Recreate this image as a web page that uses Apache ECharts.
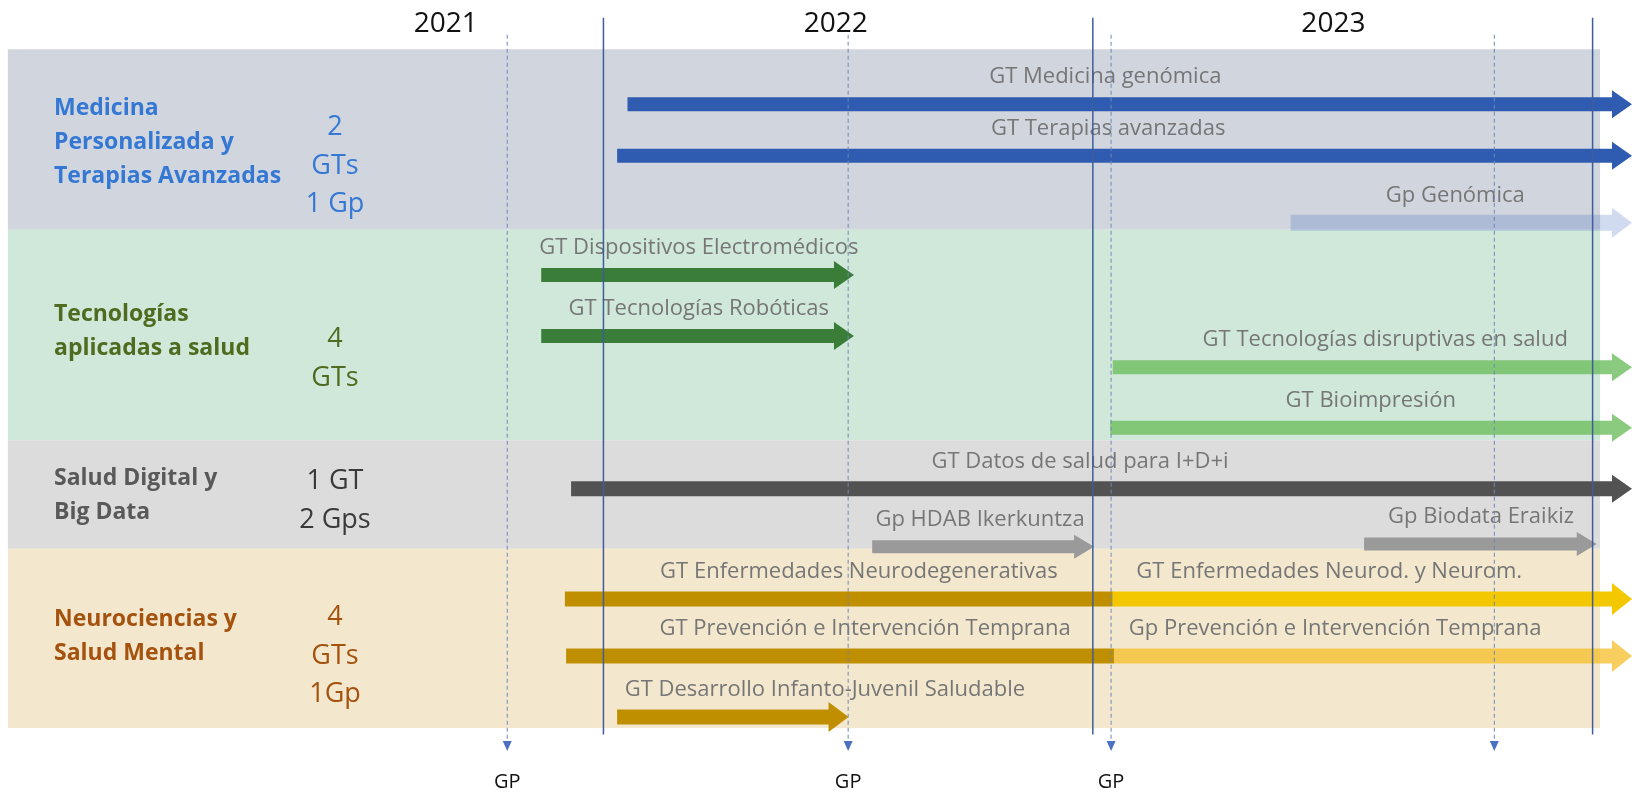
<!DOCTYPE html>
<html><head><meta charset="utf-8">
<script src="https://cdn.jsdelivr.net/npm/echarts@6/dist/echarts.min.js"></script>
<style>html,body{margin:0;padding:0;background:#fff}#c{width:1632px;height:794px}</style>
</head><body><div id="c"></div>
<script>
// ---------------- data (x in months from Jan 2021, y in row units) ----------------
const yearLabels = ['2021', '2022', '2023'];
const yearLabelAt = [8.2, 17.6, 29.6];
const yearLines = [12, 23.8, 35.85];
const gpLines = [9.68, 17.9, 24.24, 33.48];
const gpLabels = ['GP', 'GP', 'GP', ''];

const bandNames = ['Medicina\nPersonalizada y\nTerapias Avanzadas', 'Tecnologías\naplicadas a salud', 'Salud Digital y\nBig Data', 'Neurociencias y\nSalud Mental'];
const bandCounts = ['2\nGTs\n1 Gp', '4\nGTs', '1 GT\n2 Gps', '4\nGTs\n1Gp'];
const bandFrom = [0.99, 4.63, 8.87, 11.06];
const bandTo = [4.63, 8.87, 11.06, 14.67];
const bandStart = -2.36, bandEnd = 36.03;

const taskNames = [
  'GT Medicina genómica', 'GT Terapias avanzadas', 'Gp Genómica',
  'GT Dispositivos Electromédicos', 'GT Tecnologías Robóticas',
  'GT Tecnologías disruptivas en salud', 'GT Bioimpresión',
  'GT Datos de salud para I+D+i', 'Gp HDAB Ikerkuntza', 'Gp Biodata Eraikiz',
  'GT Enfermedades Neurodegenerativas', 'GT Enfermedades Neurod. y Neurom.',
  'GT Prevención e Intervención Temprana', 'Gp Prevención e Intervención Temprana',
  'GT Desarrollo Infanto-Juvenil Saludable'
];
const taskStart = [12.58, 12.33, 28.57, 10.5, 10.5, 24.28, 24.22, 11.22, 18.48, 30.34, 11.07, 24.28, 11.1, 24.31, 12.33];
const taskEnd   = [36.8, 36.8, 36.8, 18.04, 18.04, 36.8, 36.8, 36.8, 23.83, 35.95, 24.28, 36.8, 24.31, 36.8, 17.91];
const taskRow   = [2.10, 3.14, 4.49, 5.54, 6.77, 7.40, 8.62, 9.85, 11.02, 10.96, 12.07, 12.07, 13.22, 13.22, 14.45];
const taskLabelAt = [24.1, 24.17, 32.54, 14.3, 14.3, 30.85, 30.5, 23.49, 21.08, 33.16, 18.16, 29.5, 18.31, 29.64, 17.34];
const taskKind  = ['blue', 'blue', 'paleBlue', 'darkGreen', 'darkGreen', 'lightGreen', 'lightGreen', 'darkGrey', 'grey', 'grey', 'gold', 'yellow', 'gold', 'paleGold', 'gold'];
const taskArrow = [1, 1, 1, 1, 1, 1, 1, 1, 1, 1, 0, 1, 0, 1, 1];

// ---------------- styles ----------------
const kindStyle = {
  blue:      { fill: '#2f5cb0', h: 14, H: 28 },
  paleBlue:  { fill: 'rgba(70,110,190,0.25)', h: 16, H: 30 },
  darkGreen: { fill: '#3a7d38', h: 14, H: 28 },
  lightGreen:{ fill: 'rgba(110,190,95,0.8)', h: 14, H: 28 },
  darkGrey:  { fill: '#525252', h: 15, H: 28 },
  grey:      { fill: '#9a9a9a', h: 13, H: 24 },
  gold:      { fill: '#bf8f00', h: 15, H: 30 },
  yellow:    { fill: '#f4c800', h: 15, H: 32 },
  paleGold:  { fill: 'rgba(245,190,40,0.75)', h: 15, H: 32 }
};
const bandFill = ['#d0d5de', '#d0e8da', '#dcdcdc', '#f3e8cd'];
const bandNameColor = ['#3478d4', '#4e6b1f', '#595959', '#a4520e'];
const bandCountColor = ['#3478d4', '#4e6b1f', '#3a3a3a', '#a4520e'];
const bandNameCenter = [142, 331, 495, 636];
const bandCountCenter = [166, 359, 501, 656];
const FONT = '"Open Sans", "Noto Sans", sans-serif';

const chart = echarts.init(document.getElementById('c'), null, { renderer: 'canvas' });

function txt(text, x, y, size, color, align, weight) {
  return {
    type: 'text',
    style: {
      text: text, x: x, y: y, fill: color,
      font: (weight || 'normal') + ' ' + size + 'px ' + FONT,
      textAlign: align || 'center', align: align || 'center',
      textVerticalAlign: 'middle', verticalAlign: 'middle'
    }
  };
}

const graphics = [];
bandNames.forEach(function (n, i) {
  const lines = n.split('\n').length;
  graphics.push({
    type: 'text', left: 54, top: bandNameCenter[i] - lines * 34 / 2, z: 50,
    style: { text: n, fill: bandNameColor[i], font: 'bold 23px ' + FONT, lineHeight: 34 }
  });
  const cl = bandCounts[i].split('\n').length;
  graphics.push({
    type: 'text', x: 335, y: bandCountCenter[i] - cl * 38.5 / 2, z: 50,
    style: { text: bandCounts[i], fill: bandCountColor[i], font: 'normal 27px ' + FONT, lineHeight: 38.5, align: 'center', textAlign: 'center' }
  });
});

const option = {
  animation: false,
  grid: { left: 0, right: 0, top: 0, bottom: 0 },
  xAxis: { type: 'value', min: -2.55, max: 36.8, show: false },
  yAxis: { type: 'value', min: 0, max: 16, inverse: true, show: false },
  graphic: graphics,
  series: [
    {
      type: 'custom', z: 1, silent: true,
      data: bandFrom.map(function (f, i) { return [bandStart, f, bandEnd, bandTo[i], i]; }),
      renderItem: function (params, api) {
        const a = api.coord([api.value(0), api.value(1)]);
        const b = api.coord([api.value(2), api.value(3)]);
        return { type: 'rect', shape: { x: a[0], y: a[1], width: b[0] - a[0], height: b[1] - a[1] },
                 style: { fill: bandFill[api.value(4)] } };
      }
    },
    {
      type: 'custom', z: 2, silent: true,
      data: taskNames.map(function (n, i) { return [taskStart[i], taskEnd[i], taskRow[i], taskLabelAt[i], i]; }),
      renderItem: function (params, api) {
        const i = api.value(4);
        const s = kindStyle[taskKind[i]];
        const p0 = api.coord([api.value(0), api.value(2)]);
        const p1 = api.coord([api.value(1), api.value(2)]);
        const pl = api.coord([api.value(3), api.value(2)]);
        const y = p0[1], x0 = p0[0], x1 = p1[0];
        let pts;
        if (taskArrow[i]) {
          const hl = 20, xb = x1 - hl;
          pts = [[x0, y - s.h / 2], [xb, y - s.h / 2], [xb, y - s.H / 2], [x1, y], [xb, y + s.H / 2], [xb, y + s.h / 2], [x0, y + s.h / 2]];
        } else {
          pts = [[x0, y - s.h / 2], [x1, y - s.h / 2], [x1, y + s.h / 2], [x0, y + s.h / 2]];
        }
        return { type: 'group', children: [
          { type: 'polygon', shape: { points: pts }, style: { fill: s.fill } },
          txt(taskNames[i], pl[0], y - 27, 22, '#767676', 'center')
        ] };
      }
    },
    {
      type: 'custom', z: 3, silent: true,
      data: yearLines.map(function (v) { return [v]; }),
      renderItem: function (params, api) {
        const a = api.coord([api.value(0), 0.36]);
        const b = api.coord([api.value(0), 14.8]);
        return { type: 'line', shape: { x1: a[0], y1: a[1], x2: b[0], y2: b[1] },
                 style: { stroke: '#3f5d9c', lineWidth: 1.5 } };
      }
    },
    {
      type: 'custom', z: 3, silent: true,
      data: gpLines.map(function (v, i) { return [v, i]; }),
      renderItem: function (params, api) {
        const i = api.value(1);
        const a = api.coord([api.value(0), 0.7]);
        const b = api.coord([api.value(0), 14.93]);
        const l = api.coord([api.value(0), 15.76]);
        const ch = [
          { type: 'line', shape: { x1: a[0], y1: a[1], x2: b[0], y2: b[1] },
            style: { stroke: '#6f88b8', lineWidth: 1, lineDash: [4, 3] } },
          { type: 'polygon', shape: { points: [[b[0] - 4.5, b[1]], [b[0] + 4.5, b[1]], [b[0], b[1] + 10]] },
            style: { fill: '#4a72c0' } }
        ];
        if (gpLabels[i]) ch.push(txt(gpLabels[i], l[0], l[1], 20, '#111', 'center'));
        return { type: 'group', children: ch };
      }
    },
    {
      type: 'custom', z: 4, silent: true,
      data: yearLabels.map(function (t, i) { return [yearLabelAt[i], i]; }),
      renderItem: function (params, api) {
        const p = api.coord([api.value(0), 0.48]);
        return txt(yearLabels[api.value(1)], p[0], p[1], 28, '#111', 'center');
      }
    }
  ]
};
chart.setOption(option);
</script>
</body></html>
